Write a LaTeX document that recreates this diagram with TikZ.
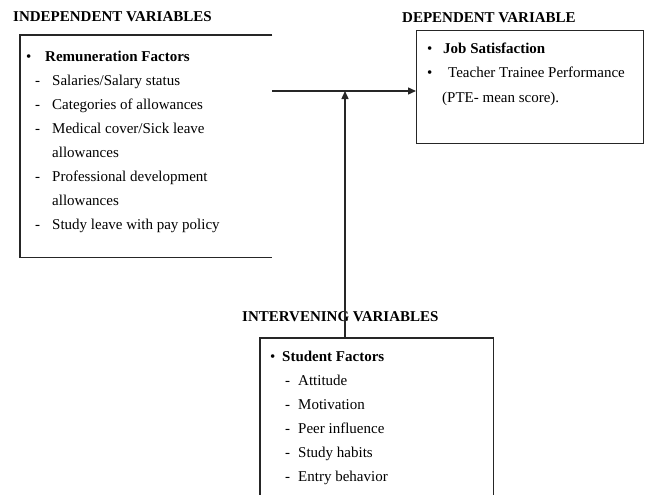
\documentclass[tikz,border=0pt]{standalone}
\usepackage{fontspec}
\setmainfont{Liberation Serif}
\usetikzlibrary{positioning,arrows.meta}

\newcommand{\bul}[1]{\makebox[#1][l]{\textbullet}}
\newcommand{\dsh}[2]{\hspace*{#1}\makebox[#2][l]{-}}

\begin{document}
\begin{tikzpicture}[x=1pt,y=-1pt,>={Triangle[length=8pt,width=7pt]},
  frame/.style={anchor=north west,inner sep=0pt},
  side/.style={line width=1.4pt,draw=black!85},
  head/.style={font=\fontsize{15}{18}\selectfont\bfseries,inner sep=0pt},
  list/.style={font=\fontsize{15}{24}\selectfont,inner sep=0pt,anchor=base west}]
  \useasboundingbox (0,0) rectangle (645,495);
  % Kaesten
  \node[frame,minimum width=252pt,minimum height=222pt] (indbox) at (20,35) {};
  \node[frame,side,minimum width=227pt,minimum height=113pt] (depbox) at (416,30) {};
  \node[frame,minimum width=233pt,minimum height=158pt] (intbox) at (260,338) {};
  \draw[side] (indbox.north east) -- (indbox.north west) -- (indbox.south west) -- (indbox.south east);
  \draw[side] (intbox.south west) -- (intbox.north west) -- (intbox.north east) -- (intbox.south east);
  % Ueberschriften
  \node[head,above right=13pt and -7pt of indbox.north west] (indhead) {INDEPENDENT VARIABLES};
  \node[head,above right=7pt and -14pt of depbox.north west] (dephead) {DEPENDENT VARIABLE};
  \node[head,above right=16pt and -18pt of intbox.north west] (inthead) {INTERVENING VARIABLES};
  % Listen
  \node[list,below right=26.6pt and 6pt of indbox.north west,anchor=base west] (indlist) {%
    \begin{tabular}[t]{@{}l@{}}
    \bul{19pt}\textbf{Remuneration Factors}\\
    \dsh{9pt}{17pt}Salaries/Salary status\\
    \dsh{9pt}{17pt}Categories of allowances\\
    \dsh{9pt}{17pt}Medical cover/Sick leave\\
    \hspace*{26pt}allowances\\
    \dsh{9pt}{17pt}Professional development\\
    \hspace*{26pt}allowances\\
    \dsh{9pt}{17pt}Study leave with pay policy
    \end{tabular}};
  \node[list,below right=24pt and 11pt of depbox.north west,anchor=base west] (deplist) {%
    \begin{tabular}[t]{@{}l@{}}
    \bul{16pt}\textbf{Job Satisfaction}\\
    \bul{21pt}Teacher Trainee Performance\\
    \hspace*{15pt}(PTE- mean score).
    \end{tabular}};
  \node[list,below right=23pt and 10pt of intbox.north west,anchor=base west] (intlist) {%
    \begin{tabular}[t]{@{}l@{}}
    \bul{12pt}\textbf{Student Factors}\\
    \dsh{15pt}{13pt}Attitude\\
    \dsh{15pt}{13pt}Motivation\\
    \dsh{15pt}{13pt}Peer influence\\
    \dsh{15pt}{13pt}Study habits\\
    \dsh{15pt}{13pt}Entry behavior
    \end{tabular}};
  % Pfeile
  \coordinate (join) at (345,91);
  \draw[side,->] (indbox.east |- join) -- (depbox.west |- join);
  \draw[side,->] (intbox.north -| join) -- (join);
\end{tikzpicture}
\end{document}
